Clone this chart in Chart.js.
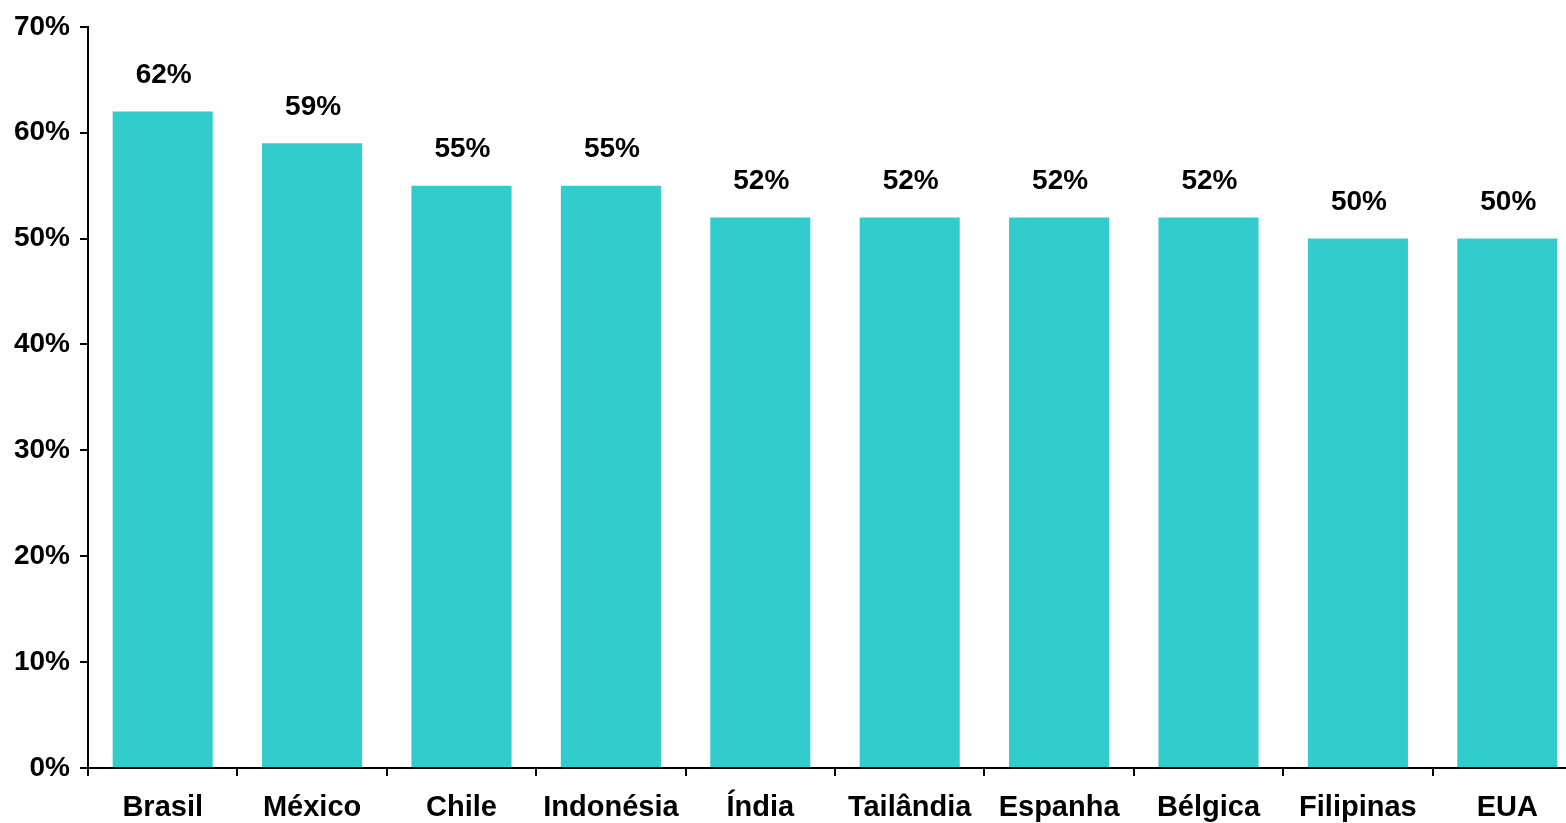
<!DOCTYPE html>
<html>
<head>
<meta charset="utf-8">
<script src="https://cdn.jsdelivr.net/npm/chart.js@4"></script>
<style>
  html, body { margin: 0; padding: 0; background: #fff; overflow: hidden; }
  #wrap { width: 1582px; height: 823px; }
</style>
</head>
<body>
<div id="wrap"><canvas id="mychart" width="1582" height="823"></canvas></div>
<script>
// categories and values
const paises = ['Brasil', 'México', 'Chile', 'Indonésia', 'Índia', 'Tailândia', 'Espanha', 'Bélgica', 'Filipinas', 'EUA'];
const valores = [62, 59, 55, 55, 52, 52, 52, 52, 50, 50];
const yTicks = [0, 10, 20, 30, 40, 50, 60, 70];

const familia = '"Liberation Sans", Arial, sans-serif';

// draws the % labels above each bar
const rotulos = {
  id: 'rotulos',
  afterDatasetsDraw(chart) {
    const ctx = chart.ctx;
    const meta = chart.getDatasetMeta(0);
    ctx.save();
    ctx.font = 'bold 28px ' + familia;
    ctx.fillStyle = '#000';
    ctx.textAlign = 'center';
    ctx.textBaseline = 'bottom';
    meta.data.forEach(function(bar, i) {
      ctx.fillText(valores[i] + '%', bar.x + 1, bar.y - 22);
    });
    ctx.restore();
  }
};

const ctx = document.getElementById('mychart').getContext('2d');

const config = {
  type: 'bar',
  data: {
    labels: paises,
    datasets: [
      {
        data: valores,
        backgroundColor: '#33CCCC',
        borderWidth: 0,
        barPercentage: 0.67,
        categoryPercentage: 1.0
      }
    ]
  },
  options: {
    responsive: false,
    animation: false,
    layout: { padding: { top: 25, right: 0, left: 0, bottom: 0 } },
    plugins: {
      legend: { display: false },
      tooltip: { enabled: false }
    },
    scales: {
      x: {
        offset: true,
        grid: {
          offset: true,
          drawOnChartArea: false,
          color: '#000',
          lineWidth: 2,
          tickLength: 8
        },
        border: { color: '#000', width: 2 },
        ticks: {
          color: '#000',
          font: { family: familia, size: 29, weight: 'bold' },
          padding: 15,
          maxRotation: 0,
          autoSkip: false
        },
        afterFit(scale) { scale.height = 55; }
      },
      y: {
        min: 0,
        max: 70,
        afterBuildTicks(scale) { scale.ticks = yTicks.map(v => ({ value: v })); },
        grid: {
          drawOnChartArea: false,
          color: '#000',
          lineWidth: 2,
          tickLength: 8
        },
        border: { color: '#000', width: 2 },
        ticks: {
          color: '#000',
          font: { family: familia, size: 28, weight: 'bold' },
          padding: 10,
          callback: v => v + '%'
        },
        afterFit(scale) { scale.width = 88; }
      }
    }
  },
  plugins: [rotulos]
};

const grafico = new Chart(ctx, config);
</script>
</body>
</html>
